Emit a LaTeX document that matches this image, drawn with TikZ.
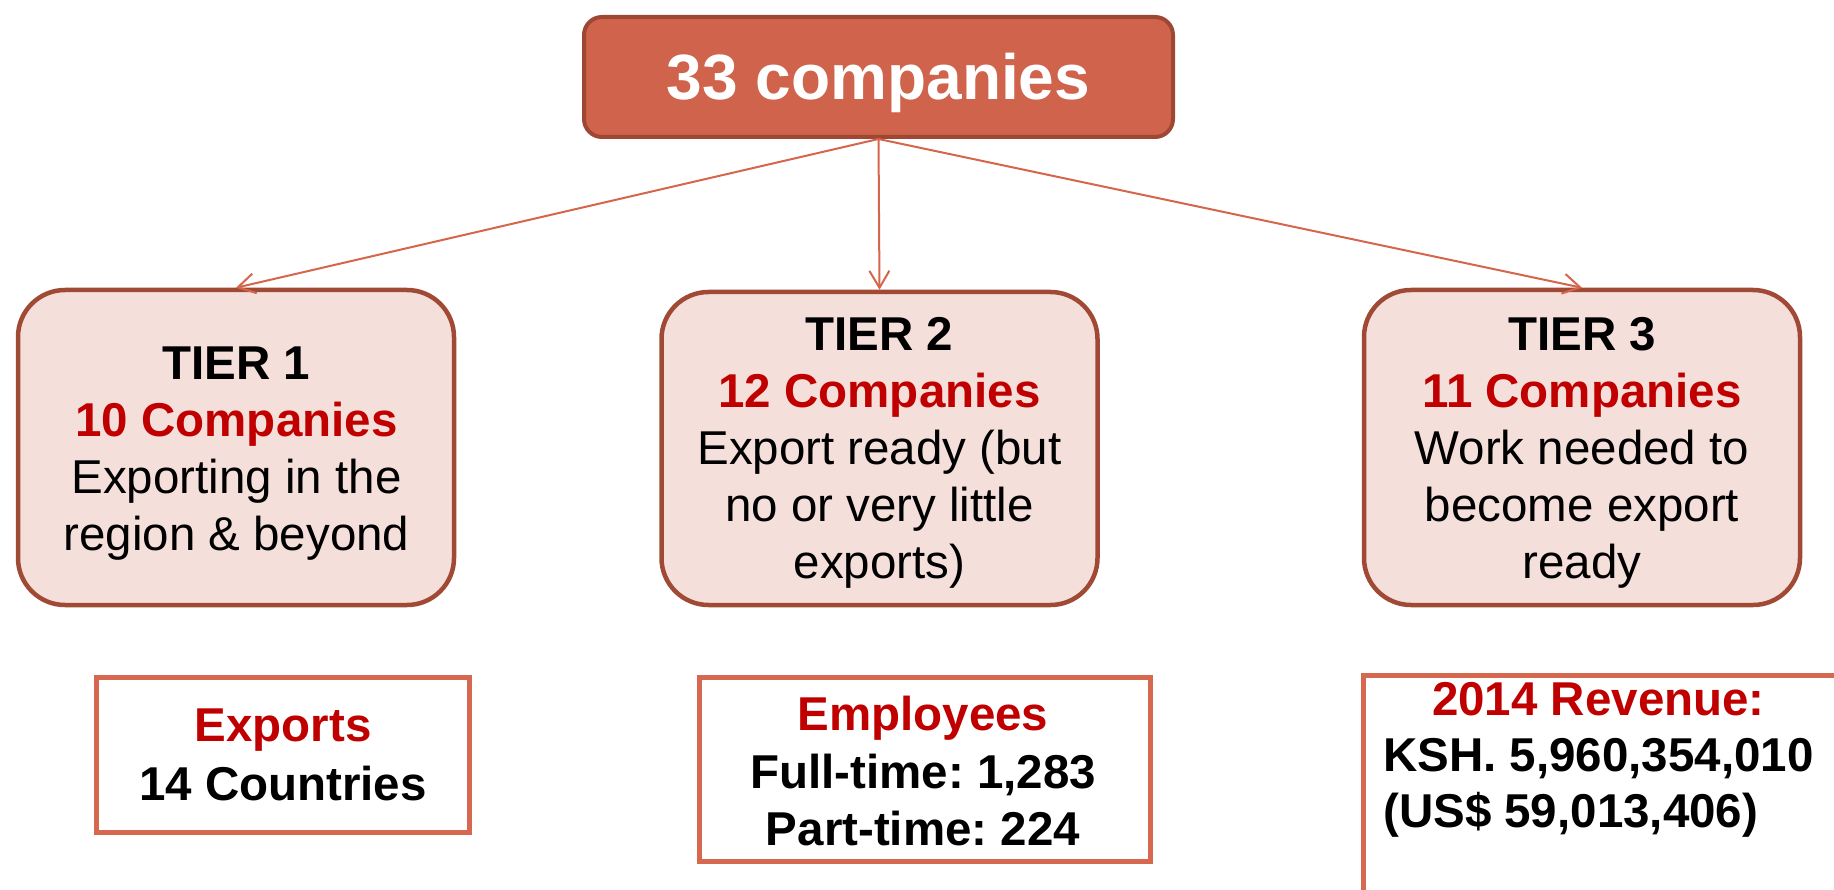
\documentclass[tikz,border=0pt]{standalone}
\usepackage{fontspec}
\setmainfont{Liberation Sans}
\usetikzlibrary{arrows.meta}
\definecolor{topfill}{HTML}{D0634B}
\definecolor{topline}{HTML}{9E4733}
\definecolor{tierfill}{HTML}{F5DFDB}
\definecolor{tierline}{HTML}{A04A36}
\definecolor{infoline}{HTML}{D6684F}
\definecolor{linkcol}{HTML}{D5654B}
\definecolor{tred}{HTML}{C00000}
\frenchspacing
\begin{document}
\begin{tikzpicture}[x=1pt,y=-1pt,
  topbox/.style={draw=topline, fill=topfill, line width=4pt, rounded corners=18pt,
    minimum width=589pt, minimum height=120pt, inner sep=0pt,
    text=white, font=\fontsize{64}{70}\selectfont\bfseries, text height=45.8pt, text depth=0pt},
  tierbox/.style={draw=tierline, fill=tierfill, line width=4.5pt, rounded corners=47pt,
    minimum width=436pt, inner sep=0pt},
  infobox/.style={draw=infoline, line width=5pt, inner sep=0pt},
  infoline/.style={draw=infoline, line width=5pt},
  txt/.style={inner sep=0pt, align=center, font=\fontsize{47.5}{57}\selectfont},
  link/.style={draw=linkcol, line width=2pt, -{Straight Barb[length=17pt,width=20pt]}}]
\useasboundingbox (0,0) rectangle (1834,890);

% top node
\node[topbox] (top) at (878.5,77) {33 companies};

% tier boxes
\node[tierbox, minimum height=315pt] (t1) at (236,447.5) {};
\node[tierbox, minimum height=313pt] (t2) at (879.5,448.5) {};
\node[tierbox, minimum height=315pt] (t3) at (1582,447.5) {};

\node[txt, anchor=north] (t1txt) at (236.5,347) {\textbf{TIER 1}\\ \textcolor{tred}{\textbf{10 Companies}}\\ Exporting in the\\ region \& beyond};
\node[txt, anchor=north] (t2txt) at (879.5,317) {\textbf{TIER 2}\\ \textcolor{tred}{\textbf{12 Companies}}\\ Export ready (but\\ no or very little\\ exports)};
\node[txt, anchor=north] (t3txt) at (1582,317) {\textbf{TIER 3}\\ \textcolor{tred}{\textbf{11 Companies}}\\ Work needed to\\ become export\\ ready};

% connectors
\draw[link] (top.south) -- (t1.north);
\draw[link] (top.south) -- (t2.north);
\draw[link] (top.south) -- (t3.north);

% info boxes
\node[infobox, minimum width=373pt, minimum height=155pt] (exp) at (283,755) {};
\node[txt, anchor=north, font=\fontsize{47.5}{59}\selectfont\bfseries] (exptxt) at (283,709) {\textcolor{tred}{Exports}\\ 14 Countries};

\node[infobox, minimum width=451pt, minimum height=184pt] (emp) at (925,769.5) {};
\node[txt, anchor=north, font=\fontsize{47.5}{57.5}\selectfont\bfseries] (emptxt) at (923,696) {\textcolor{tred}{Employees}\\ Full-time: 1,283\\ Part-time: 224};

\draw[infoline] (1363,900) |- (1850,675);
\node[inner sep=0pt, anchor=base west, font=\fontsize{47.5}{56}\selectfont\bfseries] (rev) at (1383,715)
  {\begin{tabular}[t]{@{}l@{}}\multicolumn{1}{@{}c@{}}{\textcolor{tred}{2014 Revenue:}}\\ KSH. 5,960,354,010\\ (US\$ 59,013,406)\end{tabular}};
\end{tikzpicture}
\end{document}
